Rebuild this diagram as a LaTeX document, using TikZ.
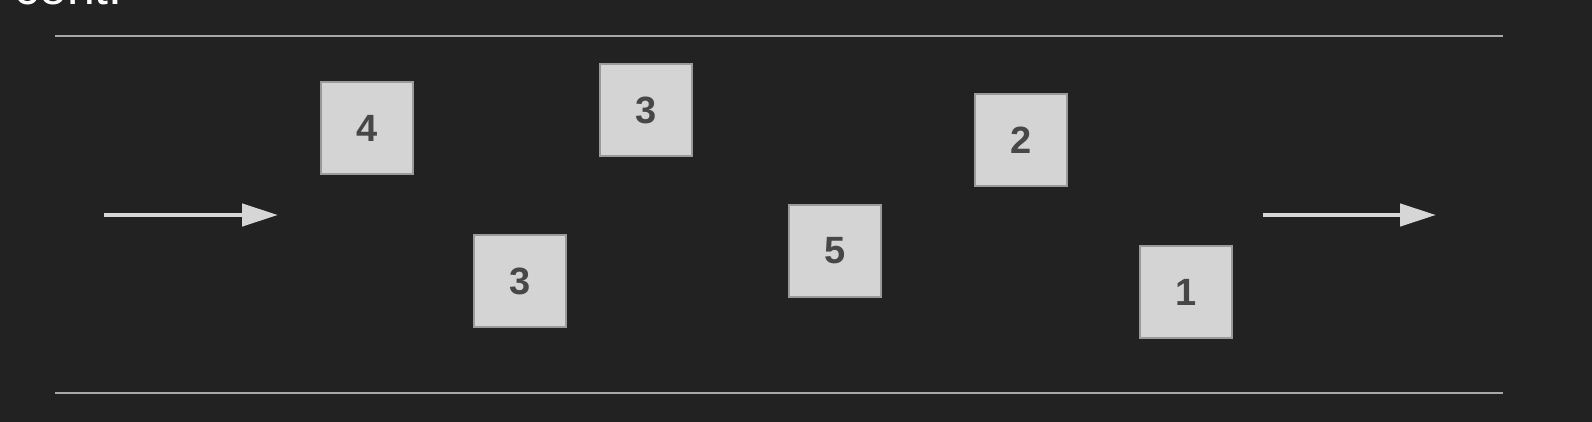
\documentclass[tikz,border=0pt]{standalone}
\usepackage{fontspec}
\setmainfont{Liberation Sans}
\usetikzlibrary{arrows.meta}
\definecolor{bg}{HTML}{222222}
\definecolor{rail}{HTML}{A8A8A8}
\definecolor{boxfill}{HTML}{D4D4D4}
\definecolor{boxline}{HTML}{9A9A9A}
\definecolor{digit}{HTML}{474747}
\definecolor{arrowc}{HTML}{D6D6D6}
\tikzset{
  item/.style={draw=boxline, line width=1.5pt, fill=boxfill, minimum size=92pt, inner sep=0pt,
    text=digit, font=\fontsize{38}{40}\selectfont\bfseries},
  railline/.style={draw=rail, line width=2pt},
  flow/.style={draw=arrowc, line width=4.5pt, -{Triangle[length=36pt,width=22pt]}},
}
\begin{document}
\begin{tikzpicture}[x=1pt,y=-1pt]
\fill[bg] (0,0) rectangle (1592,422);
\useasboundingbox (0,0) rectangle (1592,422);
\node[anchor=base west, inner sep=0pt, text=white, font=\fontsize{50}{52}\selectfont] (title) at (14,5) {cont.};
\coordinate (tl) at (55,36);
\coordinate (tr) at (1503,36);
\coordinate (bl) at (55,393);
\coordinate (br) at (1503,393);
\draw[railline] (tl) -- (tr);
\draw[railline] (bl) -- (br);
\node[item] (b4) at (367,128) {4};
\node[item] (b3a) at (646,110) {3};
\node[item] (b3b) at (520,281) {3};
\node[item] (b5) at (835,251) {5};
\node[item] (b2) at (1021,140) {2};
\node[item] (b1) at (1186,292) {1};
\coordinate (a1s) at (104,215);
\coordinate (a1e) at (278,215);
\coordinate (a2s) at (1263,215);
\coordinate (a2e) at (1436,215);
\draw[flow] (a1s) -- (a1e);
\draw[flow] (a2s) -- (a2e);
\end{tikzpicture}
\end{document}
